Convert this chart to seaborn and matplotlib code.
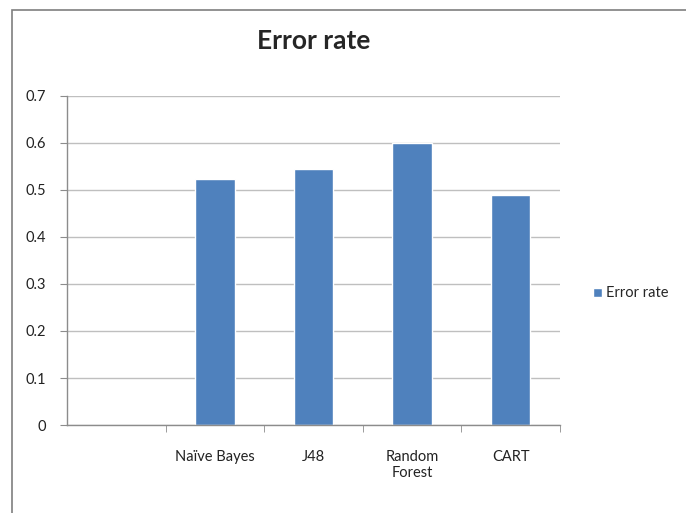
import numpy as np
import pandas as pd
import matplotlib.pyplot as plt
import seaborn as sns
from matplotlib.patches import Rectangle
from matplotlib.ticker import FixedLocator, FormatStrFormatter

# Chart data
categories = ["", "Naïve Bayes", "J48", "Random\nForest", "CART"]
error_rate = [np.nan, 0.524, 0.544, 0.599, 0.490]
series_name = "Error rate"
y_ticks = [0, 0.1, 0.2, 0.3, 0.4, 0.5, 0.6, 0.7]

df = pd.DataFrame({"method": categories, "value": error_rate})

sns.set_style("white")
plt.rcParams['font.family'] = ['Lato', 'DejaVu Sans']

fig = plt.figure(figsize=(6.86, 5.13), dpi=100)
ax = fig.add_axes([0.0977, 0.1715, 0.7185, 0.6415])

sns.barplot(data=df, x="method", y="value", color="#4F81BD", width=0.4,
            saturation=1, ax=ax, label=series_name)

ax.set_yticks(y_ticks)
ax.yaxis.set_major_formatter(FormatStrFormatter("%g"))
ax.set_ylim(0, 0.7)
ax.set_xlim(-0.5, len(categories) - 0.5)
ax.grid(axis="y", color="#BFBFBF", linewidth=1)
ax.set_axisbelow(True)

for side in ["top", "right"]:
    ax.spines[side].set_visible(False)
for side in ["left", "bottom"]:
    ax.spines[side].set_color("#8C8C8C")
    ax.spines[side].set_linewidth(1)

ax.set_xlabel("")
ax.set_ylabel("")
ax.tick_params(axis="y", left=True, length=5, color="#8C8C8C", labelsize=10.5,
               labelcolor="#222222", pad=10)
ax.tick_params(axis="x", which="major", length=0, labelsize=10.5,
               labelcolor="#222222", pad=18)
ax.xaxis.set_minor_locator(FixedLocator([0.5, 1.5, 2.5, 3.5, 4.5]))
ax.tick_params(axis="x", which="minor", bottom=True, length=5, color="#8C8C8C")

ax.set_title("Error rate", fontsize=19, fontweight="bold", pad=34)

ax.legend(loc="center left", bbox_to_anchor=(1.04, 0.40), frameon=False,
          fontsize=10.5, handlelength=0.6, handleheight=0.6, handletextpad=0.3)

# outer chart frame (left and top edges visible)
fig.patches.append(Rectangle((12 / 686, -0.05), 1.2, 1 - 10 / 513 + 0.05,
                             transform=fig.transFigure, fill=False,
                             edgecolor="#7F7F7F", linewidth=1.2))

fig.savefig("out.png", dpi=100)
